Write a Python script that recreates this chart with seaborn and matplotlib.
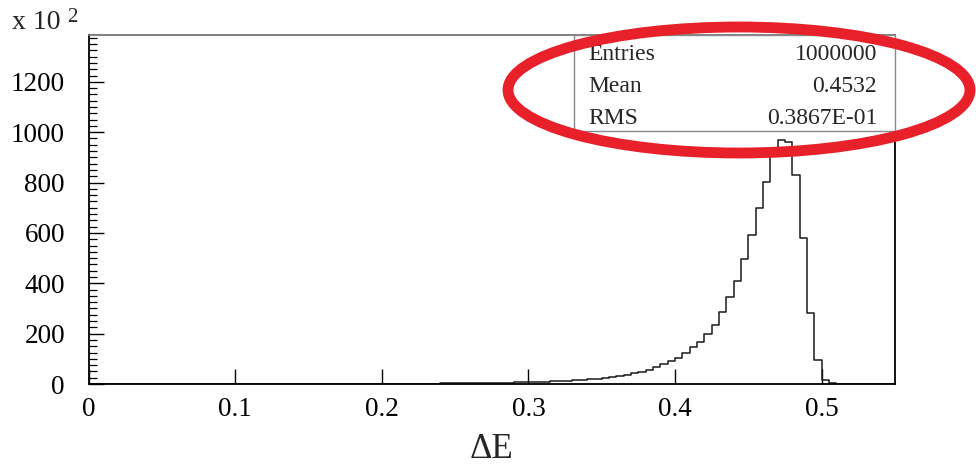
import numpy as np
import pandas as pd
import matplotlib
matplotlib.use("Agg")
import matplotlib.pyplot as plt
import seaborn as sns
from matplotlib.patches import Ellipse, Rectangle
from matplotlib.ticker import MultipleLocator

# ---------------- data (counts in units of 10^2, bins of width 0.005) ----------------
bin_width = 0.005
first_bin_low = 0.225
counts_x100 = [
    1, 1, 1.5, 2, 2, 2.5, 3, 3, 3.5, 4, 4.5, 5, 5.5, 6, 6.5, 7,          # 0.225 - 0.305
    8, 9, 10, 11.5, 13, 14.5, 16, 18, 21, 24, 27, 31, 36, 42, 49, 57,    # 0.305 - 0.385
    66, 78, 90, 105, 122, 145, 168, 198, 235, 287, 347, 410,             # 0.385 - 0.445
    497, 592, 698, 804, 910, 970, 963, 830, 579, 283, 95, 16, 5,         # 0.445 - 0.510
]
x_ticks = [0, 0.1, 0.2, 0.3, 0.4, 0.5]
x_tick_labels = ["0", "0.1", "0.2", "0.3", "0.4", "0.5"]
y_ticks = [0, 200, 400, 600, 800, 1000, 1200]
stats_names = ["Entries", "Mean", "RMS"]
stats_values = ["1000000", "0.4532", "0.3867E-01"]
x_label = "ΔE"

centers = first_bin_low + (np.arange(len(counts_x100)) + 0.5) * bin_width
df = pd.DataFrame({"dE": centers, "w": counts_x100})
edges = [round(v, 4) for v in np.arange(0, 0.55 + 1e-9, bin_width)]

# ---------------- figure ----------------
W, H = 976, 470
sns.set_style("white")
plt.rcParams["font.family"] = ["Liberation Serif", "DejaVu Serif"]

fig = plt.figure(figsize=(W / 100, H / 100), dpi=100)
ax_l, ax_r, ax_t, ax_b = 88.5, 895, 35, 384
ax = fig.add_axes([ax_l / W, 1 - ax_b / H, (ax_r - ax_l) / W, (ax_b - ax_t) / H])

sns.histplot(data=df, x="dE", weights="w", bins=edges, element="step",
             fill=False, color="#1a1a1a", linewidth=1.1, ax=ax)

ax.set_xlim(0, 0.55)
ax.set_ylim(0, 1386)
ax.set_xlabel("")
ax.set_ylabel("")
ax.set_xticks(x_ticks)
ax.set_xticklabels(x_tick_labels)
ax.set_yticks(y_ticks)
ax.yaxis.set_minor_locator(MultipleLocator(25))
ax.tick_params(axis="both", which="both", direction="in", colors="black",
               labelsize=19.5)
ax.tick_params(axis="x", which="major", length=10.8, width=1.0, pad=9,
               bottom=True, top=False)
ax.tick_params(axis="y", which="major", length=10.8, width=1.0, pad=17,
               left=True, right=False)
ax.tick_params(axis="y", which="minor", length=5.8, width=0.9, left=True, right=False)
ax.tick_params(axis="x", which="minor", bottom=False)
for s in ax.spines.values():
    s.set_visible(True)
    s.set_color("black")
    s.set_linewidth(1.3)
ax.spines["top"].set_color("#777777")

# exponent label
fig.text(12 / W, 1 - 29 / H, "x 10", fontsize=20, ha="left", va="baseline")
fig.text(67 / W, 1 - 22 / H, "2", fontsize=15, ha="left", va="baseline")

# x label
fig.text(492 / W, 1 - 450 / H, x_label, fontsize=25, ha="center", va="center")

# stats box
bx0, bx1, by0, by1 = 573.5, 894.5, 35, 131
fig.patches.append(Rectangle((bx0 / W, 1 - by1 / H), (bx1 - bx0) / W, (by1 - by0) / H,
                             transform=fig.transFigure, facecolor="white",
                             edgecolor="#888888", linewidth=1.0, zorder=3))
row_y = [55, 86.5, 118]
for name, val, yy in zip(stats_names, stats_values, row_y):
    fig.text(588 / W, 1 - yy / H, name, fontsize=17, ha="left", va="center", zorder=4)
    fig.text(877 / W, 1 - yy / H, val, fontsize=17, ha="right", va="center", zorder=4)

# red highlight ellipse
fig.patches.append(Ellipse((739 / W, 1 - 90 / H), 462 / W, 126 / H,
                           transform=fig.transFigure, facecolor="none",
                           edgecolor="#E8202A", linewidth=7.8, zorder=5))

fig.savefig("out.png", dpi=100)
